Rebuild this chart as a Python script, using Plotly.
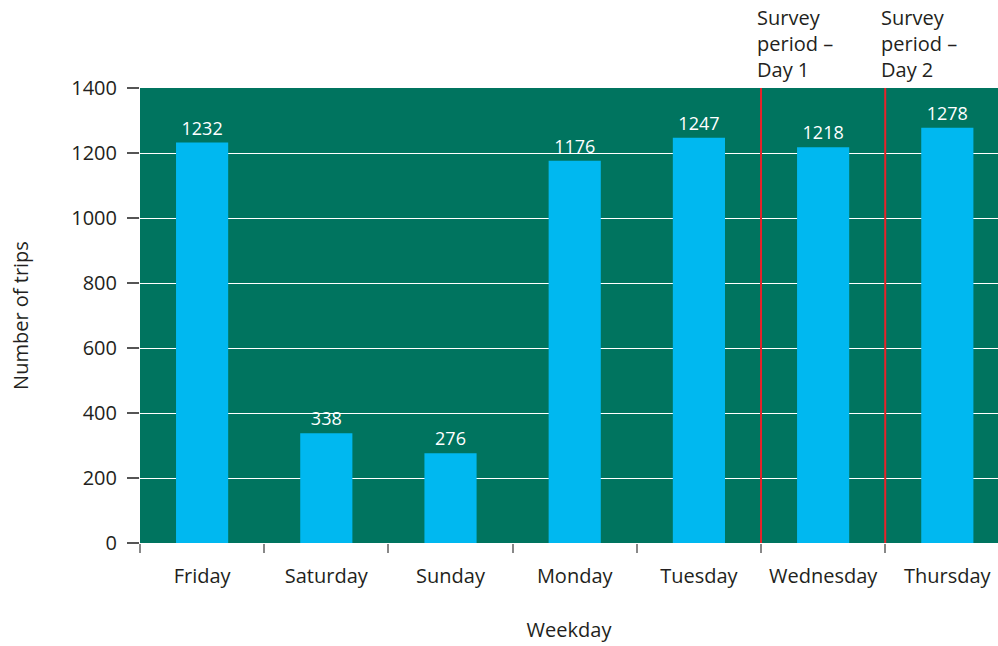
import plotly.graph_objects as go

days = ["Friday", "Saturday", "Sunday", "Monday", "Tuesday", "Wednesday", "Thursday"]
trips = [1232, 338, 276, 1176, 1247, 1218, 1278]
survey_days = ["Wednesday", "Thursday"]
survey_labels = ["Survey<br>period –<br>Day 1", "Survey<br>period –<br>Day 2"]
y_ticks = [0, 200, 400, 600, 800, 1000, 1200, 1400]

FONT = "Open Sans"
GREEN = "#00745F"
BLUE = "#00B8F0"

fig = go.Figure()
fig.add_trace(go.Bar(
    x=days, y=trips, width=0.42,
    marker=dict(color=BLUE, line=dict(width=0)),
    text=[str(v) for v in trips], textposition="outside",
    textfont=dict(color="white", size=18, family=FONT),
    cliponaxis=False,
))

for d, lab in zip(survey_days, survey_labels):
    i = days.index(d)
    fig.add_shape(type="line", xref="x", yref="y", x0=i - 0.5, x1=i - 0.5,
                  y0=0, y1=1400, line=dict(color="#E8232A", width=2), layer="above")
    fig.add_annotation(x=i - 0.5, xref="x", y=1, yref="paper", text=lab,
                       showarrow=False, xanchor="left", yanchor="bottom", align="left",
                       xshift=-6, yshift=3,
                       font=dict(size=20, family=FONT, color="#231F20"))

fig.update_layout(
    width=998, height=646,
    margin=dict(l=140, r=0, t=88, b=103),
    paper_bgcolor="white", plot_bgcolor=GREEN,
    showlegend=False,
    font=dict(family=FONT, size=20, color="#231F20"),
)
fig.update_xaxes(
    type="category", range=[-0.5, 6.408],
    tickson="boundaries", ticks="outside", ticklen=9, tickcolor="#888888", tickwidth=1.5,
    ticklabelstandoff=19,
    showgrid=False, zeroline=False, showline=False,
    title=dict(text="Weekday", standoff=34, font=dict(size=20)),
    tickfont=dict(size=20),
)
fig.update_yaxes(
    range=[0, 1400], tickvals=y_ticks,
    ticks="outside", ticklen=12, tickcolor="#555555", tickwidth=1.5,
    ticklabelstandoff=6,
    showgrid=True, gridcolor="white", gridwidth=1,
    zeroline=False, showline=False,
    title=dict(text="Number of trips", standoff=37, font=dict(size=20)),
    tickfont=dict(size=20),
)

fig.write_html("out.html")
